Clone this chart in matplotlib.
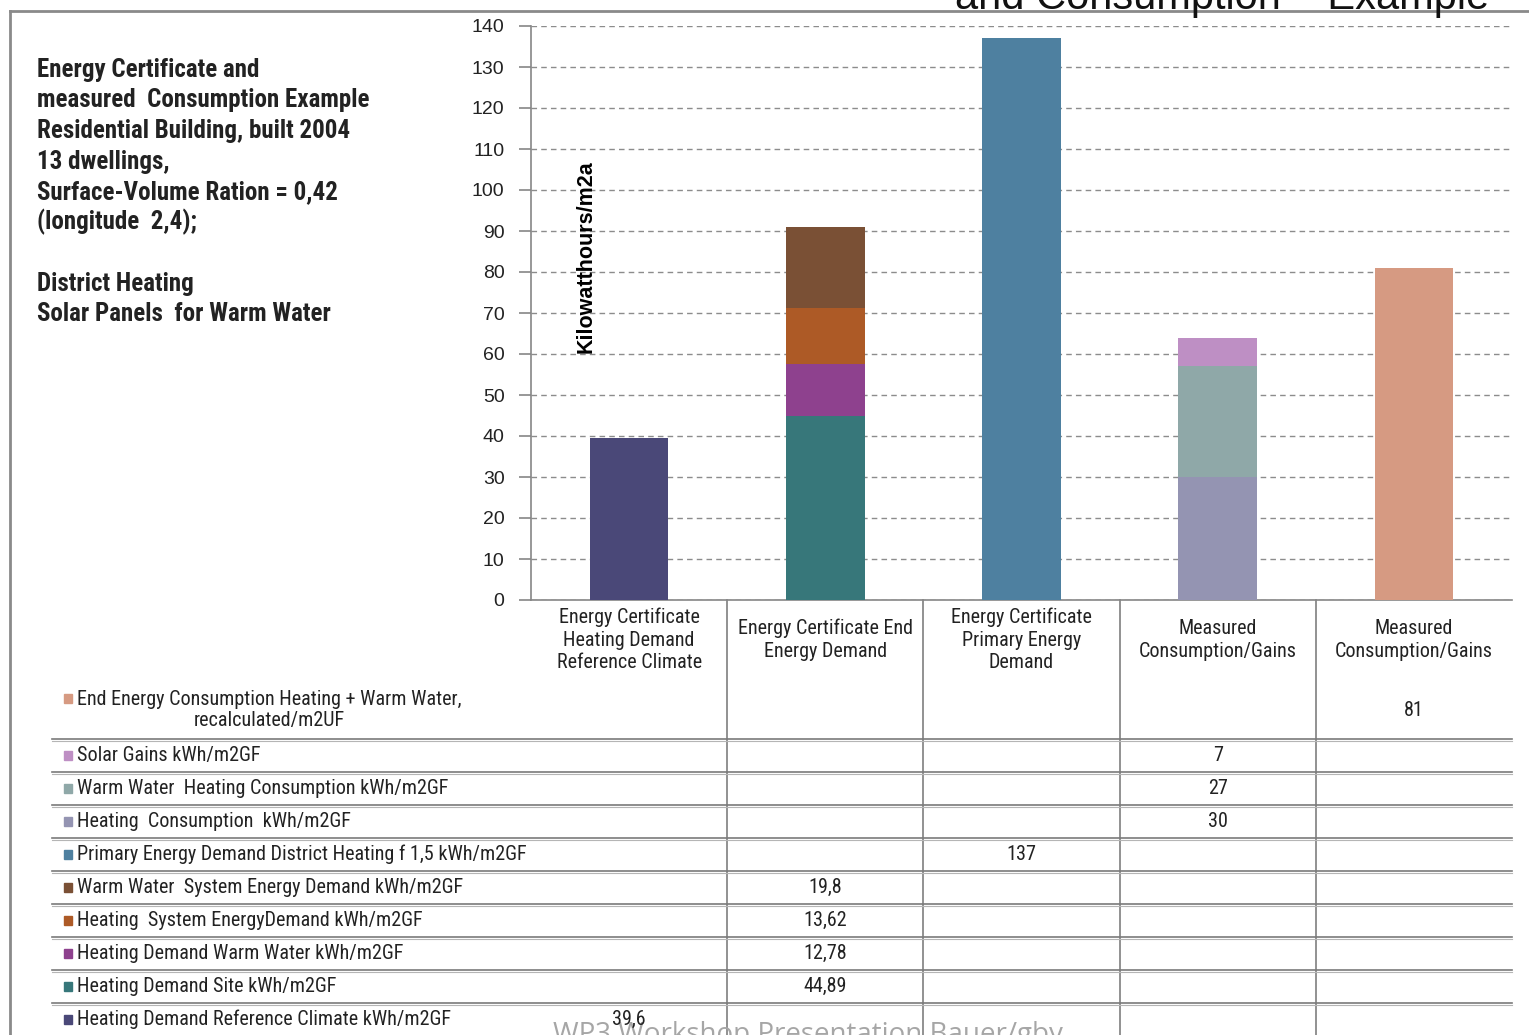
import numpy as np
import matplotlib
matplotlib.use("Agg")
import matplotlib.pyplot as plt
from matplotlib.patches import Rectangle
from matplotlib.transforms import blended_transform_factory
import logging

logging.getLogger("matplotlib.font_manager").setLevel(logging.ERROR)

nan = np.nan

categories = [
    "Energy Certificate\nHeating Demand\nReference Climate",
    "Energy Certificate End\nEnergy Demand",
    "Energy Certificate\nPrimary Energy\nDemand",
    "Measured\nConsumption/Gains",
    "Measured\nConsumption/Gains",
]

# series in stacking order (bottom to top)
series_names = [
    "Heating Demand Reference Climate kWh/m2GF",
    "Heating Demand Site kWh/m2GF",
    "Heating Demand Warm Water kWh/m2GF",
    "Heating  System EnergyDemand kWh/m2GF",
    "Warm Water  System Energy Demand kWh/m2GF",
    "Primary Energy Demand District Heating f 1,5 kWh/m2GF",
    "Heating  Consumption  kWh/m2GF",
    "Warm Water  Heating Consumption kWh/m2GF",
    "Solar Gains kWh/m2GF",
    "End Energy Consumption Heating + Warm Water,\nrecalculated/m2UF",
]
ref_climate = [39.6, nan, nan, nan, nan]
demand_site = [nan, 44.89, nan, nan, nan]
demand_warm_water = [nan, 12.78, nan, nan, nan]
heating_system = [nan, 13.62, nan, nan, nan]
warm_water_system = [nan, 19.8, nan, nan, nan]
primary_energy = [nan, nan, 137, nan, nan]
heating_consumption = [nan, nan, nan, 30, nan]
warm_water_consumption = [nan, nan, nan, 27, nan]
solar_gains = [nan, nan, nan, 7, nan]
end_energy = [nan, nan, nan, nan, 81]

series_values = [ref_climate, demand_site, demand_warm_water, heating_system,
                 warm_water_system, primary_energy, heating_consumption,
                 warm_water_consumption, solar_gains, end_energy]
series_colors = ["#4a4878", "#37777a", "#8e418e", "#ad5a26", "#7a5035",
                 "#4e80a0", "#9494b2", "#8fa8a8", "#be8fc4", "#d69a82"]

info_lines = [
    "Energy Certificate and",
    "measured  Consumption Example",
    "Residential Building, built 2004",
    "13 dwellings,",
    "Surface-Volume Ration = 0,42",
    "(longitude  2,4);",
    "",
    "District Heating",
    "Solar Panels  for Warm Water",
]

NARROW = ["Liberation Sans Narrow", "Arial Narrow", "Roboto Condensed",
          "Archivo Narrow", "PT Sans Narrow", "IBM Plex Sans Condensed",
          "DejaVu Sans"]
SANS = ["Liberation Sans", "Arimo", "DejaVu Sans"]
W, H = 1529, 1035

fig = plt.figure(figsize=(W / 100, H / 100), dpi=100)

# overlay axes in pixel coordinates for frame, text block and data table
tax = fig.add_axes([0, 0, 1, 1])
tax.set_xlim(0, W)
tax.set_ylim(H, 0)
tax.axis("off")

ax = fig.add_axes([531 / W, 1 - 600 / H, (1512 - 531) / W, (600 - 26) / H])
x = np.arange(len(categories))
bottom = np.zeros(len(categories))
for vals, color in zip(series_values, series_colors):
    v = np.nan_to_num(np.array(vals, dtype=float))
    ax.bar(x, v, 0.4, bottom=bottom, color=color, zorder=3)
    bottom += v

ax.set_xlim(-0.5, 4.5)
ax.set_ylim(0, 140)
ax.set_yticks(np.arange(0, 141, 10))
ax.set_xticks([])
ax.yaxis.grid(True, color="#8c8c8c", linestyle=(0, (4, 3)), linewidth=1)
ax.set_axisbelow(True)
for s in ["top", "right"]:
    ax.spines[s].set_visible(False)
for s in ["left", "bottom"]:
    ax.spines[s].set_color("#868686")
    ax.spines[s].set_linewidth(1.2)
ax.tick_params(axis="y", length=9, width=1.2, color="#868686", pad=10,
               labelsize=14, labelcolor="#222222")
for lab in ax.get_yticklabels():
    lab.set_family(SANS)
ax.text(0.056, 0.598, "Kilowatthours/m2a", transform=ax.transAxes, rotation=90,
        ha="center", va="center", fontsize=15.5, fontweight="bold",
        family=SANS)
ax.patch.set_alpha(0)

# slide frame and clipped title
tax.plot([10, W], [11, 11], color="#8a8a8a", lw=2)
tax.plot([10, 10], [11, H], color="#8a8a8a", lw=2)
title = tax.text(955, 9, "and Consumption \u2013 Example", fontsize=30,
                 ha="left", va="baseline", color="#111111", family=SANS)
title.set_clip_path(Rectangle((0, 0), W, 10, transform=tax.transData))

# footer (partly cut off by the slide edge)
tax.text(553, 1042, "WP3 Workshop Presentation Bauer/gby", fontsize=20,
         color="#a6a6a6", ha="left", va="baseline",
         family=["Open Sans", "DejaVu Sans"])

# left info block
for i, line in enumerate(info_lines):
    tax.text(37, 77 + 30.5 * i, line, fontsize=18, fontweight="bold",
             ha="left", va="baseline", color="#222222", family=NARROW)

# data table under the chart
col = blended_transform_factory(ax.transData, tax.transData)
for b in np.arange(0.5, len(categories) - 1, 1.0):
    tax.plot([b, b], [600, H], color="#7f7f7f", lw=1.2, transform=col)
for xi, cat in zip(x, categories):
    tax.text(xi, 640, cat, ha="center", va="center", fontsize=14.5,
             linespacing=1.25, transform=col, family=NARROW, color="#222222")

row_y = [710] + [755.5 + 33 * k for k in range(9)]
line_y = [739 + 33 * k for k in range(9)]
for y in line_y:
    tax.plot([52, 1512], [y, y], color="#7a7a7a", lw=1.2)
    tax.plot([52, 1512], [y + 2, y + 2], color="#b5b5b5", lw=0.8)

table_order = list(range(len(series_names)))[::-1]
for r, si in enumerate(table_order):
    y = row_y[r]
    name = series_names[si]
    label_y = y - 12 if "\n" in name else y
    tax.add_patch(Rectangle((64, label_y - 4.5), 8, 9,
                            color=series_colors[si]))
    tax.text(77, y, name, ha="left", va="center", fontsize=14.5,
             multialignment="center", linespacing=1.15, family=NARROW,
             color="#222222")
    for xi, v in zip(x, series_values[si]):
        if not np.isnan(v):
            tax.text(xi, y, f"{v:g}".replace(".", ","), ha="center",
                     va="center", fontsize=14.5, transform=col, family=NARROW,
                     color="#222222")

fig.savefig("out.png", dpi=100)
